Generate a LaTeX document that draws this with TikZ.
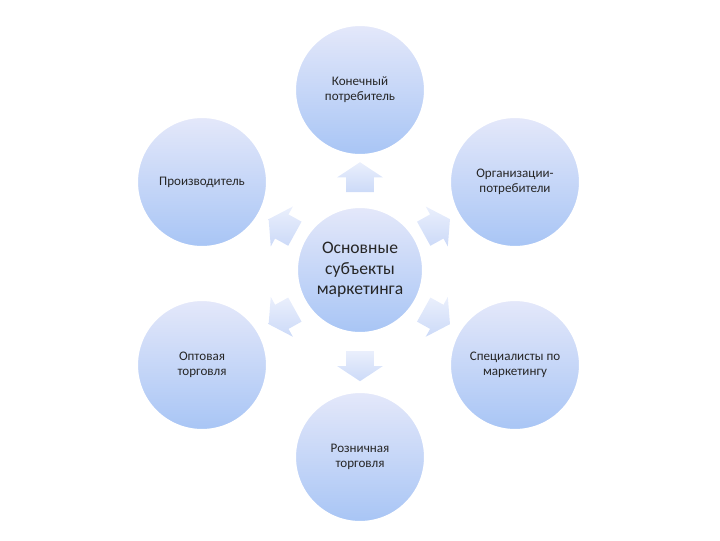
\documentclass[tikz,border=0pt]{standalone}
\usepackage{fontspec}
\setmainfont{Carlito}
\usetikzlibrary{shapes,arrows,positioning,calc}

\definecolor{ballTop}{RGB}{228,232,250}
\definecolor{ballBot}{RGB}{168,197,245}
\definecolor{arrTop}{RGB}{234,239,252}
\definecolor{arrBot}{RGB}{204,218,248}

\begin{document}
\begin{tikzpicture}[x=0.025cm,y=-0.025cm,
    ball/.style={circle,minimum size=3.25cm,inner sep=0pt,top color=ballTop,bottom color=ballBot,
      draw=white,line width=1.5pt,align=center,text=black!85,font=\fontsize{9.3}{10.6}\selectfont},
    hub/.style={ball,minimum size=3.15cm,font=\fontsize{12.5}{14.5}\selectfont},
    blockarrow/.style={single arrow,single arrow head extend=0.225cm,single arrow tip angle=113,
      minimum height=0.75cm,inner xsep=0pt,inner ysep=0.3375cm,top color=arrTop,bottom color=arrBot,draw=none}]
    \useasboundingbox (0,0) rectangle (720,540);

    % Centres
    \coordinate (c0) at (360,270);
    \coordinate (c1) at (360,90);
    \coordinate (c2) at (515,182);
    \coordinate (c3) at (515,365);
    \coordinate (c4) at (360,457);
    \coordinate (c5) at (202,365);
    \coordinate (c6) at (202,182);

    % Arrows
    \node[blockarrow,rotate=90] (a1) at ($(c0)!0.49!(c1)$) {};
    \node[blockarrow,rotate=29] (a2) at ($(c0)!0.47!(c2)$) {};
    \node[blockarrow,rotate=-29] (a3) at ($(c0)!0.47!(c3)$) {};
    \node[blockarrow,rotate=-90] (a4) at ($(c0)!0.49!(c4)$) {};
    \node[blockarrow,rotate=209] (a5) at ($(c0)!0.47!(c5)$) {};
    \node[blockarrow,rotate=151] (a6) at ($(c0)!0.47!(c6)$) {};

    % Circles
    \node[hub] (subj) at (c0) {Основные\\субъекты\\маркетинга};
    \node[ball] (cons) at (c1) {Конечный\\потребитель};
    \node[ball] (org) at (c2) {Организации-\\потребители};
    \node[ball] (spec) at (c3) {Специалисты по\\маркетингу};
    \node[ball] (retail) at (c4) {Розничная\\торговля};
    \node[ball] (whole) at (c5) {Оптовая\\торговля};
    \node[ball] (prod) at (c6) {Производитель};
\end{tikzpicture}
\end{document}
